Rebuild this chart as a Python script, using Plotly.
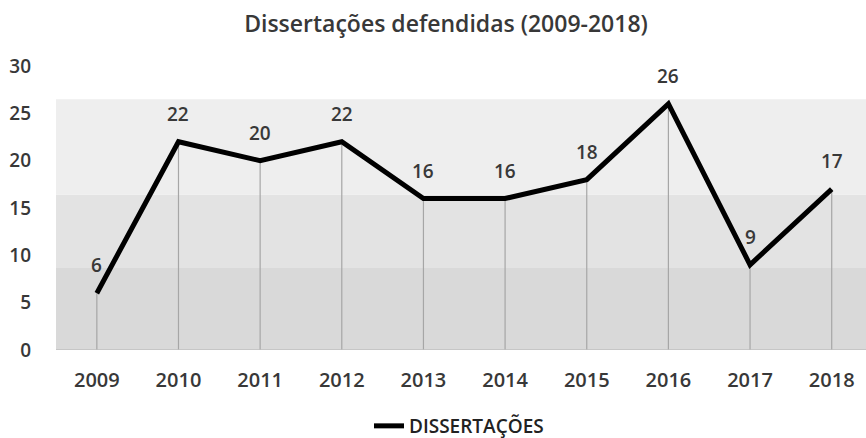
import plotly.graph_objects as go

years = ["2009", "2010", "2011", "2012", "2013", "2014", "2015", "2016", "2017", "2018"]
dissertacoes = [6, 22, 20, 22, 16, 16, 18, 26, 9, 17]
y_ticks = [0, 5, 10, 15, 20, 25, 30]
series_name = "DISSERTAÇÕES"
title = "Dissertações defendidas (2009-2018)"

font_family = "Open Sans, Noto Sans, Liberation Sans, sans-serif"
txt_color = "#383838"

fig = go.Figure()
fig.add_trace(go.Scatter(
    x=list(range(len(years))), y=dissertacoes,
    mode="lines",
    name=series_name,
    line=dict(color="black", width=5),
    error_y=dict(type="data", symmetric=False, array=[0] * len(dissertacoes),
                 arrayminus=dissertacoes, width=0, thickness=1.2, color="#a6a6a6"),
    cliponaxis=False,
))

# data labels above each point
for i, v in enumerate(dissertacoes):
    fig.add_annotation(x=i, y=v, xref="x", yref="y", text=str(v), showarrow=False,
                       yshift=28, font=dict(size=19, color=txt_color, family=font_family,
                                            weight=600))

# background bands
bands = [(0, 8.65, "#d9d9d9"), (8.65, 16.4, "#e3e3e3"), (16.4, 26.5, "#eeeeee")]
for y0, y1, c in bands:
    fig.add_shape(type="rect", xref="paper", yref="y", x0=0, x1=1, y0=y0, y1=y1,
                  fillcolor=c, line=dict(width=0), layer="below")

fig.update_layout(
    width=866, height=438,
    margin=dict(l=56, r=0, t=66, b=88, autoexpand=False),
    paper_bgcolor="white", plot_bgcolor="white",
    title=dict(text=title, x=446 / 866, xref="container", xanchor="center",
               y=1 - 24 / 438, yref="container", yanchor="middle",
               font=dict(size=23, color=txt_color, family=font_family, weight=600)),
    showlegend=True,
    legend=dict(orientation="h", xref="container", x=369 / 866, xanchor="left",
                yref="container", y=1 - 426 / 438, yanchor="middle",
                font=dict(size=19, color="#222222", family=font_family, weight=600),
                bgcolor="rgba(0,0,0,0)"),
    xaxis=dict(range=[-0.5, 9.42], tickmode="array", tickvals=list(range(len(years))),
               ticktext=years, showgrid=False, zeroline=False, showline=False,
               tickfont=dict(size=20, color=txt_color, family=font_family, weight=600),
               ticks="", ticklabelstandoff=16),
    yaxis=dict(range=[0, 30], tickmode="array", tickvals=y_ticks, showgrid=False,
               zeroline=False, showline=False,
               tickfont=dict(size=19, color=txt_color, family=font_family, weight=600),
               ticks="", ticklabelstandoff=24),
)
fig.add_shape(type="line", xref="paper", yref="y", x0=0, x1=1, y0=0, y1=0,
              line=dict(color="#bfbfbf", width=1.5))

fig.write_html("out.html", config={"displayModeBar": False},
               post_script="document.body.style.margin='0';")
